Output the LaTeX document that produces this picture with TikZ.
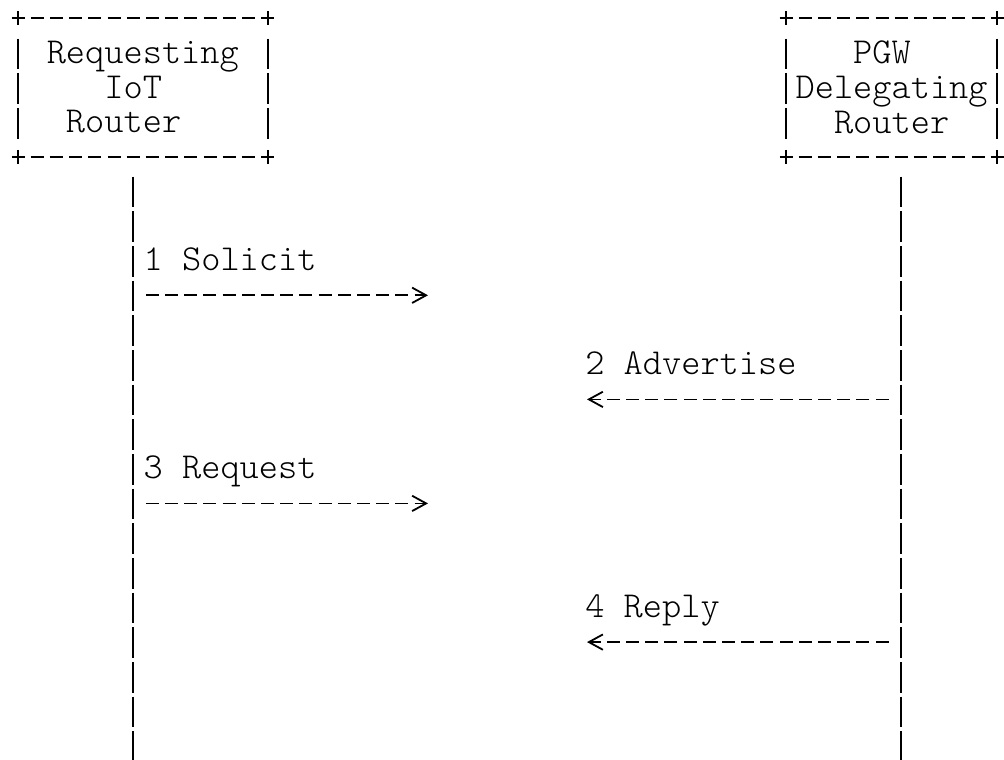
\documentclass[tikz,border=0pt]{standalone}
\usepackage{tikz}
\usetikzlibrary{arrows.meta}
\newcommand\asciifont{\ttfamily\fontseries{l}\fontsize{27.43}{26}\selectfont}
\tikzset{
  hedge/.style={line width=1.35pt,dash pattern=on 9.75pt off 4.65pt},
  vedge/.style={line width=1.35pt,
    dash pattern=on 10.5pt off 10.3pt on 22.7pt off 3pt on 23.25pt off 3pt on 23.25pt off 8.25pt on 10.3pt off 5pt},
  life/.style={line width=1.35pt,dash pattern=on 22.9pt off 3.1pt},
}

\begin{document}
\begin{tikzpicture}[x=0.75pt,y=-0.75pt]
  \tikzstyle{router}=[align=left,inner sep=0,outer sep=0,minimum height=104pt,font=\asciifont]
  \tikzstyle{msg}=[hedge,shorten <=9.5pt,-{Straight Barb[length=10.5pt,width=11.5pt]}]
  \tikzstyle{lbl}=[anchor=base west,inner sep=0,yshift=18.5pt,font=\asciifont]
  \useasboundingbox (0,0) rectangle (1004,760);

  \node[router,minimum width=187.2pt] (req) at (142.8,87.3) {Requesting\\\ \ \ IoT\\\ Router};
  \node[router,minimum width=158.4pt] (pgw) at (891.6,87.3) {\ \ \ PGW\\Delegating\\\ \ Router};

  \foreach \b in {req,pgw}{
    \draw[hedge] ([xshift=-4.875pt]\b.north west) -- ([xshift=4.875pt]\b.north east);
    \draw[hedge] ([xshift=-4.875pt]\b.south west) -- ([xshift=4.875pt]\b.south east);
    \draw[vedge] ([yshift=5.25pt]\b.north west) -- ([yshift=-5.25pt]\b.south west);
    \draw[vedge] ([yshift=5.25pt]\b.north east) -- ([yshift=-5.25pt]\b.south east);
  }

  \coordinate (reqtop) at ([xshift=-7.2pt,yshift=-15.08pt]req.south);
  \coordinate (pgwtop) at ([xshift=7.2pt,yshift=-15.08pt]pgw.south);
  \draw[life] (reqtop) -- (reqtop |- 0,760);
  \draw[life] (pgwtop) -- (pgwtop |- 0,760);

  \coordinate (m1) at (428,295.3);
  \coordinate (m2) at (587,399.4);
  \coordinate (m3) at (428,503.4);
  \coordinate (m4) at (587,642.1);
  \draw[msg] (reqtop |- m1) -- (m1) node[lbl,pos=0,xshift=7.2pt] (solicit) {1 Solicit};
  \draw[msg] (pgwtop |- m2) -- (m2) node[lbl,pos=1,xshift=-1.95pt] (advertise) {2 Advertise};
  \draw[msg] (reqtop |- m3) -- (m3) node[lbl,pos=0,xshift=7.2pt] (request) {3 Request};
  \draw[msg] (pgwtop |- m4) -- (m4) node[lbl,pos=1,xshift=-1.95pt] (reply) {4 Reply};
\end{tikzpicture}
\end{document}
